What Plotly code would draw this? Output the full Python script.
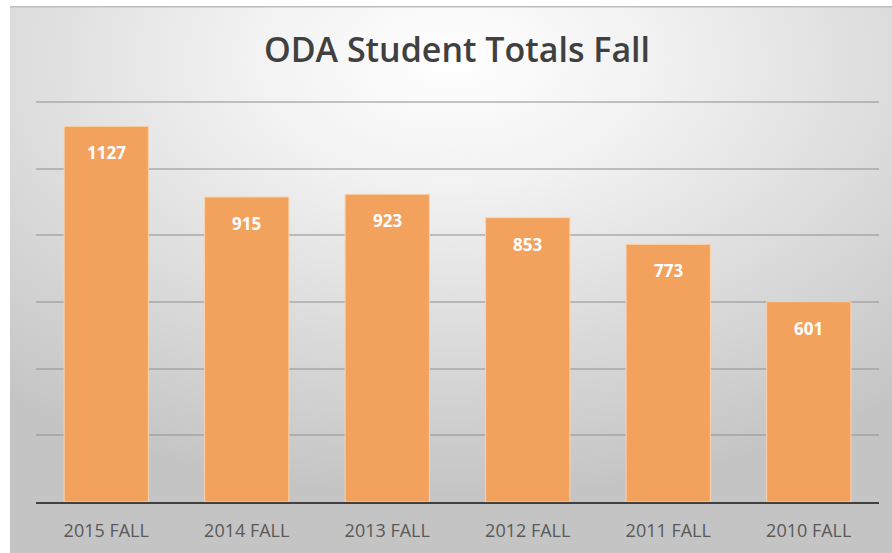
import base64
import plotly.graph_objects as go

categories = ["2015 FALL", "2014 FALL", "2013 FALL", "2012 FALL", "2011 FALL", "2010 FALL"]
values = [1127, 915, 923, 853, 773, 601]
y_ticks = [0, 200, 400, 600, 800, 1000, 1200]
y_max = 1230
title_text = "ODA Student Totals Fall"

W, H = 892, 553
ML, MR, MB = 36, 13, 51
PX_PER_UNIT = 400 / 1200
MT = int(round(H - MB - y_max * PX_PER_UNIT))
PW, PH = W - ML - MR, H - MT - MB

def px_to_paper_x(px):
    return (px - ML) / PW

def px_to_paper_y(py):
    return (H - MB - py) / PH

svg = """<svg xmlns='http://www.w3.org/2000/svg' width='882' height='547' viewBox='0 0 882 547' preserveAspectRatio='none'>
<defs><radialGradient id='g' cx='0.5' cy='0.1' r='0.8' fx='0.5' fy='0.1'>
<stop offset='0' stop-color='#ffffff'/><stop offset='0.3' stop-color='#f1f1f1'/><stop offset='1' stop-color='#c4c4c4'/>
</radialGradient></defs>
<rect width='882' height='547' fill='url(#g)'/>
<rect width='882' height='1.5' fill='#bdbdbd'/>
</svg>"""
src = "data:image/svg+xml;base64," + base64.b64encode(svg.encode()).decode()

fig = go.Figure()
fig.add_trace(go.Bar(
    x=categories, y=values,
    marker=dict(color="#F3A25E", line=dict(color="#FAD3AE", width=1)),
    hoverinfo="x+y",
))

for c, v in zip(categories, values):
    fig.add_annotation(
        x=c, y=v, xref="x", yref="y", text=f"<b>{v}</b>", showarrow=False,
        yanchor="top", yshift=-13,
        font=dict(family="Open Sans", size=17, color="#ffffff"),
    )

fig.add_layout_image(dict(
    source=src, xref="paper", yref="paper",
    x=px_to_paper_x(10), y=px_to_paper_y(6),
    sizex=px_to_paper_x(W) - px_to_paper_x(10),
    sizey=px_to_paper_y(6) - px_to_paper_y(H),
    sizing="stretch", xanchor="left", yanchor="top", layer="below",
))

fig.update_layout(
    width=W, height=H,
    margin=dict(l=ML, r=MR, t=MT, b=MB, pad=0),
    paper_bgcolor="#ffffff",
    plot_bgcolor="rgba(0,0,0,0)",
    bargap=0.4,
    showlegend=False,
    title=dict(
        text=title_text, xref="container", yref="container",
        x=457 / W, y=1 - 50 / H, xanchor="center", yanchor="middle",
        font=dict(family="Open Sans", size=34, weight=600, color="#404040"),
    ),
    xaxis=dict(
        showline=True, linecolor="#404040", linewidth=2,
        showgrid=False, ticks="",
        tickfont=dict(family="Open Sans", size=18, color="#595959"),
        ticklabelstandoff=11,
    ),
    yaxis=dict(
        range=[0, y_max], tickvals=y_ticks, showticklabels=False,
        showgrid=True, gridcolor="rgba(150,150,150,0.55)", gridwidth=1.5,
        zeroline=False, showline=False, fixedrange=True,
    ),
)

fig.write_html(
    "out.html",
    config={"displayModeBar": False},
    post_script="document.body.style.margin='0';document.body.style.padding='0';",
)
